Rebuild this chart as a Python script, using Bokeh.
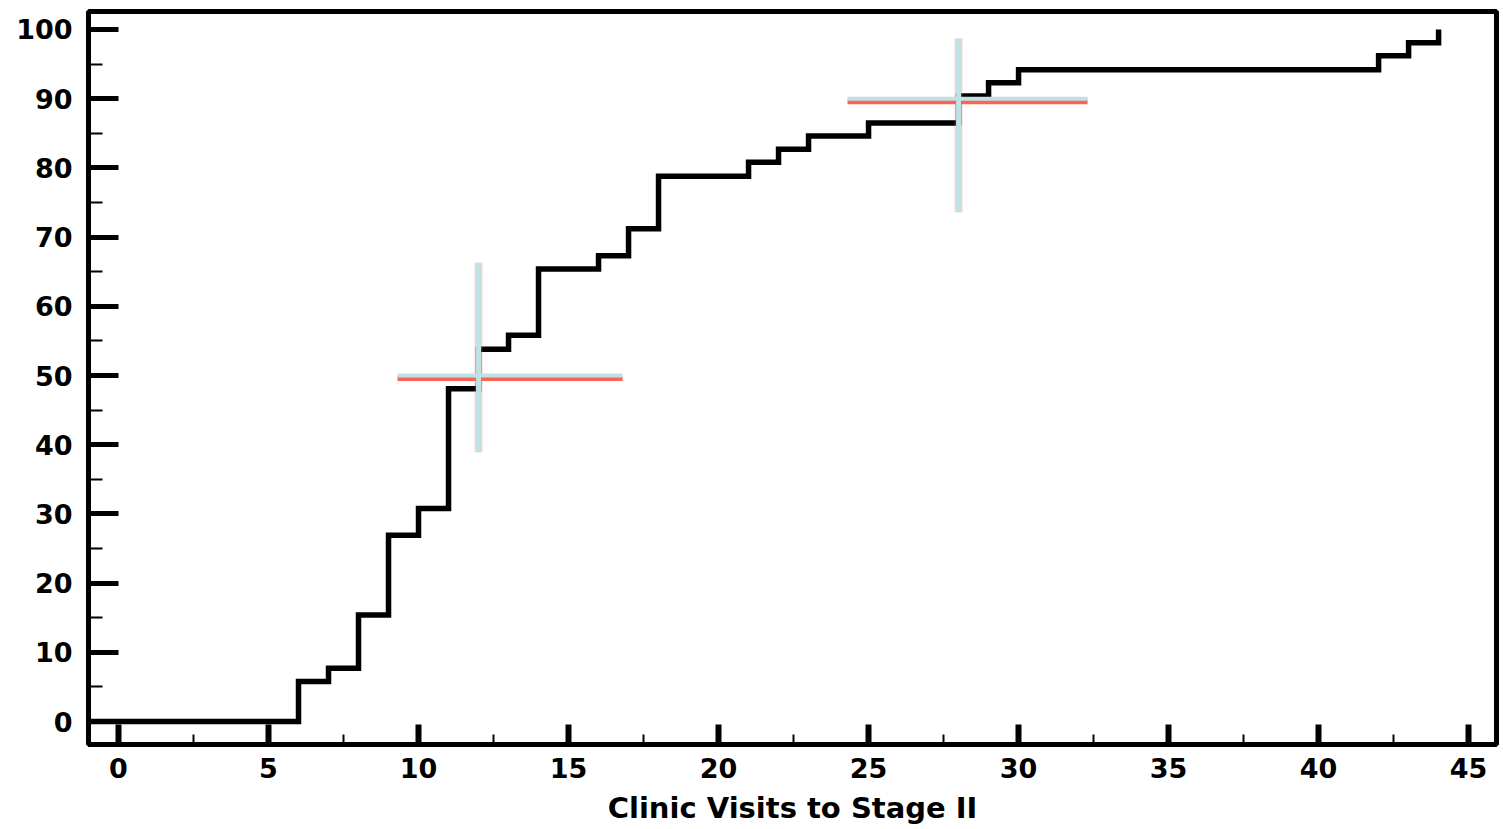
from bokeh.plotting import figure
from bokeh.models import FixedTicker, Range1d
from bokeh.embed import file_html
from bokeh.resources import INLINE

# ---- data ----
visits = [0, 6, 7, 8, 9, 10, 11, 12, 13, 14, 16, 17, 18, 21, 22, 23, 25, 28, 29, 30, 42, 43, 44]
percent = [0, 5.8, 7.7, 15.4, 26.9, 30.8, 48.1, 53.8, 55.8, 65.4, 67.3, 71.2, 78.8,
           80.8, 82.7, 84.6, 86.5, 90.4, 92.3, 94.2, 96.2, 98.1, 100]

# crosshair markers (centre and extents)
ch_x = [12, 28]
ch_y = [50, 90]
ch_x_lo = [9.3, 24.3]
ch_x_hi = [16.8, 32.3]
ch_y_lo = [38.9, 73.6]
ch_y_hi = [66.3, 98.7]

x_ticks = [0, 5, 10, 15, 20, 25, 30, 35, 40, 45]
x_minor = [2.5, 7.5, 12.5, 17.5, 22.5, 27.5, 32.5, 37.5, 42.5]
y_ticks = [0, 10, 20, 30, 40, 50, 60, 70, 80, 90, 100]
y_minor = [5, 15, 25, 35, 45, 55, 65, 75, 85, 95]
x_title = "Clinic Visits to Stage II"

X0, X1 = -1.0, 45.93
Y0, Y1 = -3.32, 102.6

p = figure(width=1501, height=829, output_backend="svg", toolbar_location=None,
           x_range=Range1d(X0, X1), y_range=Range1d(Y0, Y1),
           min_border_left=88, min_border_right=5, min_border_top=11, min_border_bottom=85)
p.grid.visible = False
p.background_fill_color = "white"
p.border_fill_color = "white"
p.outline_line_color = "black"
p.outline_line_width = 5

# step curve (starts at the left edge of the plot)
sx = [X0] + visits
sy = [percent[0]] + percent
p.step(sx, sy, mode="after", line_color="black", line_width=5.5, line_join="miter")

# crosshairs: red shadow then light cyan
dy_shadow = 0.45
p.segment(x0=ch_x_lo, y0=[v - dy_shadow for v in ch_y], x1=ch_x_hi, y1=[v - dy_shadow for v in ch_y],
          line_color="#ff5040", line_width=5, line_alpha=0.9)
p.segment(x0=ch_x, y0=ch_y_lo, x1=ch_x, y1=ch_y_hi,
          line_color="#ff6a58", line_width=8, line_alpha=0.3)
p.segment(x0=ch_x_lo, y0=ch_y, x1=ch_x_hi, y1=ch_y,
          line_color="#bfe2e6", line_width=4)
p.segment(x0=ch_x, y0=ch_y_lo, x1=ch_x, y1=ch_y_hi,
          line_color="#bfe2e6", line_width=5)

font = "DejaVu Sans"

xa = p.xaxis[0]
xa.ticker = FixedTicker(ticks=x_ticks, minor_ticks=x_minor)
xa.axis_line_color = "black"
xa.axis_line_width = 5
xa.major_tick_in = 20
xa.major_tick_out = 0
xa.major_tick_line_width = 6
xa.major_tick_line_color = "black"
xa.minor_tick_in = 10
xa.minor_tick_out = 0
xa.minor_tick_line_width = 2
xa.minor_tick_line_color = "black"
xa.major_label_text_font = font
xa.major_label_text_font_style = "bold"
xa.major_label_text_font_size = "27px"
xa.major_label_text_color = "black"
xa.major_label_standoff = 13
xa.axis_label = x_title
xa.axis_label_text_font = font
xa.axis_label_text_font_style = "bold"
xa.axis_label_text_font_size = "29px"
xa.axis_label_text_color = "black"
xa.axis_label_standoff = 10

ya = p.yaxis[0]
ya.ticker = FixedTicker(ticks=y_ticks, minor_ticks=y_minor)
ya.axis_line_color = "black"
ya.axis_line_width = 5
ya.major_tick_in = 30
ya.major_tick_out = 0
ya.major_tick_line_width = 5
ya.major_tick_line_color = "black"
ya.minor_tick_in = 14
ya.minor_tick_out = 0
ya.minor_tick_line_width = 2
ya.minor_tick_line_color = "black"
ya.major_label_text_font = font
ya.major_label_text_font_style = "bold"
ya.major_label_text_font_size = "27px"
ya.major_label_text_color = "black"
ya.major_label_standoff = 16

open("out.html", "w").write(file_html(p, INLINE))
